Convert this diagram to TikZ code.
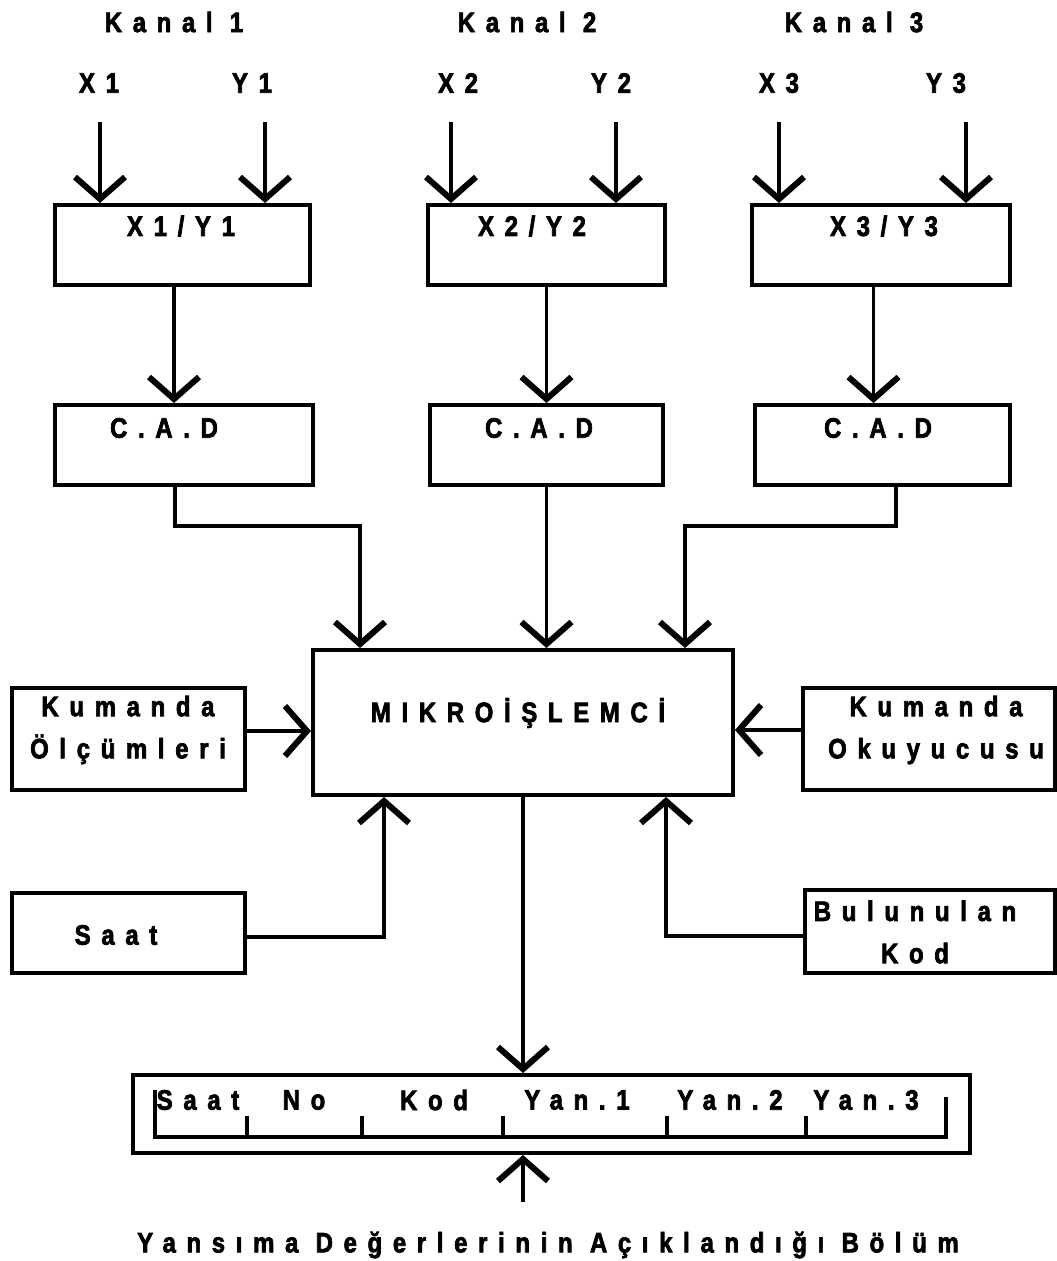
\documentclass[tikz,border=0pt]{standalone}
\usepackage{fontspec}
\newfontfamily\semafont{Liberation Sans}[UprightFont=* Bold,LetterSpace=38,FakeStretch=0.85,FakeBold=2.5]
\usetikzlibrary{arrows.meta,positioning}
\begin{document}
\begin{tikzpicture}[x=0.2mm,y=-0.2mm,
  kutu/.style={draw, line width=0.8mm, inner sep=0pt},
  yazi/.style={inner sep=0pt, align=center, font=\semafont\fontsize{16}{24}\selectfont},
  ok/.style={line width=0.7mm, -{Straight Barb[length=4.4mm,width=10mm,line width=1.2mm]}},
  cizgi/.style={line width=0.7mm}]
\useasboundingbox (0,0) rectangle (1057,1261);
\node[yazi] (kanal1) at (174,22) {Kanal 1};
\node[yazi] (kanal2) at (527,22) {Kanal 2};
\node[yazi] (kanal3) at (854,22) {Kanal 3};
\node[yazi] (x1) at (99,83) {X1};
\node[yazi] (y1) at (252,83) {Y1};
\node[yazi] (x2) at (458,83) {X2};
\node[yazi] (y2) at (611,83) {Y2};
\node[yazi] (x3) at (779,83) {X3};
\node[yazi] (y3) at (946,83) {Y3};
\coordinate (x1in) at (100,122);
\coordinate (y1in) at (265,122);
\coordinate (x2in) at (451,122);
\coordinate (y2in) at (616,122);
\coordinate (x3in) at (779,122);
\coordinate (y3in) at (966,122);
\node[kutu, minimum width=51mm, minimum height=16mm] (k1) at (182.5,245) {};
\node[kutu, minimum width=47.4mm, minimum height=16mm] (k2) at (546.5,245) {};
\node[kutu, minimum width=51.6mm, minimum height=16mm] (k3) at (881,245) {};
\node[yazi] (k1y) at (181,226) {X1/Y1};
\node[yazi] (k2y) at (532,226) {X2/Y2};
\node[yazi] (k3y) at (884,226) {X3/Y3};
\node[kutu, minimum width=51.6mm, minimum height=16mm] (cad1) at (184,445) {};
\node[kutu, minimum width=46.6mm, minimum height=16mm] (cad2) at (546.5,445) {};
\node[kutu, minimum width=51mm, minimum height=16mm] (cad3) at (882.5,445) {};
\node[yazi] (cad1y) at (164,428) {C.A.D};
\node[yazi] (cad2y) at (539,428) {C.A.D};
\node[yazi] (cad3y) at (878,428) {C.A.D};
\node[kutu, minimum width=84mm, minimum height=29mm] (mikro) at (523,722.5) {};
\node[yazi] (mikroy) at (518,713) {MIKROİŞLEMCİ};
\node[kutu, minimum width=46.6mm, minimum height=20.4mm] (olcum) at (128.5,739) {};
\node[yazi] (olcumy) at (128,730) {Kumanda\\Ölçümleri};
\node[kutu, minimum width=50.4mm, minimum height=20.4mm] (okuy) at (929,739) {};
\node[yazi] (okuyy) at (936,730) {Kumanda\\Okuyucusu};
\node[kutu, minimum width=46.6mm, minimum height=16mm] (saat) at (128.5,933) {};
\node[yazi] (saaty) at (116,935) {Saat};
\node[kutu, minimum width=50mm, minimum height=16.6mm] (bulun) at (930,931.5) {};
\node[yazi] (buluny) at (915,932) {Bulunulan\\Kod};
\node[kutu, minimum width=167.4mm, minimum height=15.6mm] (reg) at (551.5,1114) {};
\foreach \t/\x/\n in {Saat/198/rsaat, No/304/rno, Kod/434/rkod, Yan.1/577/ryan1, Yan.2/730/ryan2, Yan.3/866/ryan3}
  \node[yazi] (\n) at (\x,1100) {\t};
\draw[cizgi] (155,1090) -- (155,1137) -- (946,1137) -- (946,1097);
\foreach \x in {247,362,503,667,806}
  \draw[cizgi] (\x,1116) -- (\x,1137);
\coordinate (regin) at (523,1202);
\node[yazi] (bolum) at (548,1245) {Yansıma Değerlerinin Açıklandığı Bölüm};
\draw[ok] (x1in) -- (x1in |- k1.north);
\draw[ok] (y1in) -- (y1in |- k1.north);
\draw[ok] (x2in) -- (x2in |- k2.north);
\draw[ok] (y2in) -- (y2in |- k2.north);
\draw[ok] (x3in) -- (x3in |- k3.north);
\draw[ok] (y3in) -- (y3in |- k3.north);
\draw[ok] ([xshift=-1.7mm]k1.south) -- ([xshift=-1.7mm]k1.south |- cad1.north);
\draw[ok] (k2.south) -- (k2.south |- cad2.north);
\draw[ok] ([xshift=-1.5mm]k3.south) -- ([xshift=-1.5mm]k3.south |- cad3.north);
\coordinate (j1) at (360,526);
\coordinate (j3) at (685,526);
\draw[ok] ([xshift=-1.8mm]cad1.south) |- (j1) -- (j1 |- mikro.north);
\draw[ok] (cad2.south) -- (cad2.south |- mikro.north);
\draw[ok] ([xshift=2.7mm]cad3.south) |- (j3) -- (j3 |- mikro.north);
\draw[ok] ([yshift=1.6mm]olcum.east) -- ([yshift=1.6mm]olcum.east -| mikro.west);
\draw[ok] ([yshift=1.8mm]okuy.west) -- ([yshift=1.8mm]okuy.west -| mikro.east);
\draw[ok] ([yshift=-0.8mm]saat.east) -| ([xshift=-27.8mm]mikro.south);
\draw[ok] ([yshift=-0.9mm]bulun.west) -| ([xshift=28.6mm]mikro.south);
\draw[ok] (mikro.south) -- (mikro.south |- reg.north);
\draw[ok] (regin) -- (regin |- reg.south);
\end{tikzpicture}
\end{document}
